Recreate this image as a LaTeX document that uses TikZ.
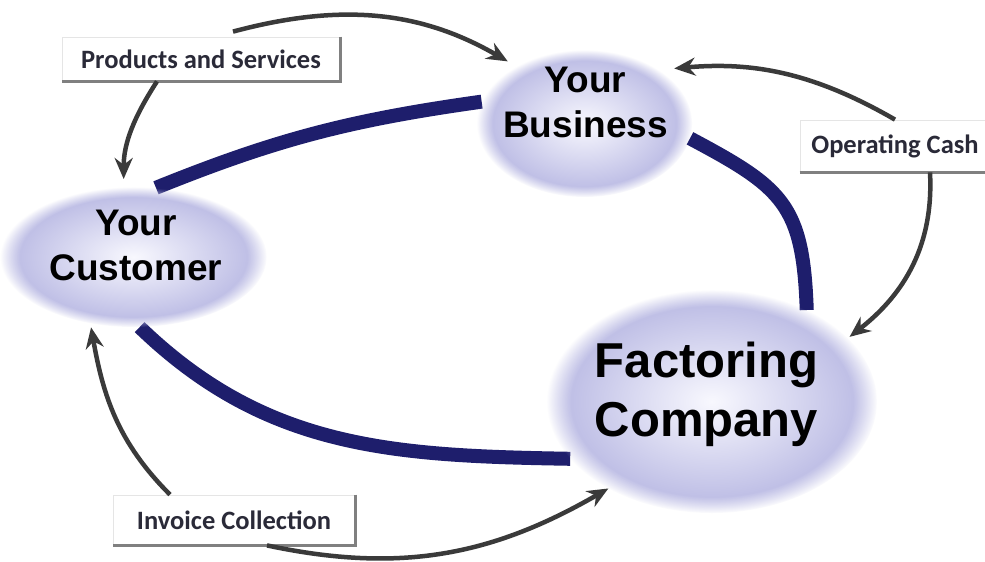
\documentclass[tikz,border=0pt]{standalone}
\usepackage{fontspec}
\setmainfont{Liberation Sans}
\newfontfamily\lblfont{Carlito}
\usetikzlibrary{shapes.geometric,arrows.meta,backgrounds,fadings}
\definecolor{navy}{RGB}{30,30,108}
\definecolor{lavin}{RGB}{248,248,254}
\definecolor{lavout}{RGB}{182,182,226}
\definecolor{arrowgray}{RGB}{58,58,58}
\definecolor{shadowgray}{RGB}{128,128,128}
\definecolor{lbltext}{RGB}{42,42,56}
\begin{document}
\begin{tikzpicture}[x=1pt,y=1pt,
  blob/.style={ellipse, inner sep=0pt, shade, inner color=lavin, outer color=lavout,
    path fading=circle with fuzzy edge 15 percent},
  ttl/.style={inner sep=0pt, align=center, font=\bfseries\fontsize{37}{45}\selectfont, text=black},
  bigttl/.style={inner sep=0pt, align=center, font=\bfseries\fontsize{49}{59}\selectfont, text=black},
  lbl/.style={fill=white, draw=black!10, line width=0.8pt, inner sep=0pt,
    font=\lblfont\bfseries\fontsize{26.5}{30}\selectfont, text=lbltext},
  shadowline/.style={draw=shadowgray, line width=3.5pt},
  bandline/.style={draw=navy, line width=14pt},
  flowarrow/.style={draw=arrowgray, line width=4.5pt, -{Stealth[length=21pt,width=18pt]}}
]
\useasboundingbox (0,-562) rectangle (985,0);

% ellipses
\node[blob, minimum width=215pt, minimum height=147pt] (bus) at (584.5,-123.5) {};
\node[blob, minimum width=266pt, minimum height=140pt] (cust) at (133.5,-257) {};
\node[blob, minimum width=330pt, minimum height=223pt] (fact) at (712,-401.5) {};
\node[ttl, anchor=north] (busT) at (585.5,-67) {Your\\Business};
\node[ttl, anchor=north] (custT) at (136,-210) {Your\\Customer};
\node[bigttl, anchor=north] (factT) at (706.5,-342) {Factoring\\Company};

% labels
\node[lbl, minimum width=278pt, minimum height=44pt] (ps) at (201,-59) {Products and Services};
\draw[shadowline] (ps.north east) -- (ps.south east) -- (ps.south west);
\node[lbl, minimum width=190pt, minimum height=52pt] (oc) at (895,-146) {Operating Cash};
\draw[shadowline] (oc.south west) -- (oc.south east);
\node[lbl, minimum width=242pt, minimum height=50pt] (ic) at (234,-520) {Invoice Collection};
\draw[shadowline] (ic.north east) -- (ic.south east) -- (ic.south west);

% grey flow arrows
\draw[flowarrow, shorten >=10pt] ([xshift=32pt,yshift=5pt]ps.north) to[out=15, in=150] (bus.140);
\draw[flowarrow, shorten >=8pt] ([xshift=-44pt]ps.south) to[out=-123, in=90] (cust.98);
\draw[flowarrow, shorten >=16pt] (oc.north) to[out=150, in=5] (bus.36);
\draw[flowarrow, shorten >=2pt] ([xshift=35pt]oc.south) to[out=-87, in=38] (fact.25);
\draw[flowarrow, shorten >=4pt] ([xshift=-64pt]ic.north) to[out=135, in=-80] (cust.237);
\draw[flowarrow] ([xshift=33pt]ic.south) to[out=-12, in=-150] (fact.220);

% navy ring behind the ellipses
\begin{scope}[on background layer]
\fill[white] (0,-562) rectangle (985,0);
\draw[bandline] (cust.72) to[out=22, in=188] (bus.168);
\draw[bandline] (bus.-8) to[out=-28, in=92, looseness=1.3] (fact.44);
\draw[bandline] (fact.202) to[out=179, in=-44] (cust.-85);
\end{scope}
\end{tikzpicture}
\end{document}
